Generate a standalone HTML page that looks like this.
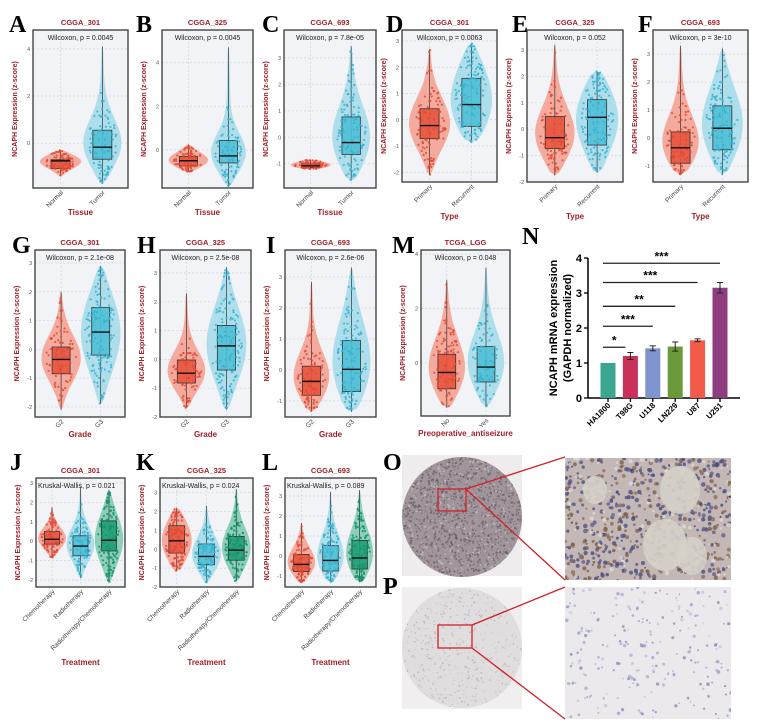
<!DOCTYPE html>
<html><head><meta charset="utf-8"><style>
html,body{margin:0;padding:0;background:#fff}
svg{display:block}
text{font-family:"Liberation Sans",sans-serif}
.let{font-family:"Liberation Serif",serif;font-weight:bold;font-size:24px;fill:#000}
</style></head><body>
<svg id="fig" width="757" height="728" viewBox="0 0 757 728" xmlns="http://www.w3.org/2000/svg">
<defs>
<clipPath id="cO"><circle cx="462" cy="517" r="60"/></clipPath>
<clipPath id="cP"><circle cx="462" cy="648" r="60"/></clipPath>
<clipPath id="rO"><rect x="565" y="458" width="166" height="122"/></clipPath>
<clipPath id="rP"><rect x="565" y="587" width="166" height="132"/></clipPath>
</defs>
<g id="panels"></g>
<g id="nchart"></g>
<g id="images">
  <rect x="402" y="455" width="120" height="121" fill="#eeecec"/>
  <circle cx="462" cy="517" r="60" fill="#a0959a"/>
  <g id="texO" clip-path="url(#cO)"></g>
  <rect x="402" y="587" width="120" height="122" fill="#f0eeee"/>
  <circle cx="462" cy="648" r="60" fill="#e0dddf"/>
  <g id="texP" clip-path="url(#cP)"></g>
  <rect x="565" y="458" width="166" height="122" fill="#c4b8b6"/>
  <g id="texOR" clip-path="url(#rO)"></g>
  <rect x="565" y="587" width="166" height="132" fill="#ebe9ec"/>
  <g id="texPR" clip-path="url(#rP)"></g>
  <g stroke="#d0202a" stroke-width="1.3" fill="none">
    <rect x="438" y="489" width="28" height="22"/>
    <line x1="466" y1="489" x2="565" y2="457"/>
    <line x1="466" y1="489" x2="565" y2="580"/>
    <rect x="438" y="625" width="34" height="23"/>
    <line x1="472" y1="625" x2="565" y2="587"/>
    <line x1="472" y1="648" x2="565" y2="719"/>
  </g>
  <text class="let" x="383" y="470">O</text>
  <text class="let" x="383" y="594">P</text>
</g>
</svg>
<script>
// ===== Violin panel data (stats: [min, q1, median, q3, max]) =====
const panelIds = ["A","B","C","D","E","F","G","H","I","M","J","K","L"];
const panelTitles = ["CGGA_301","CGGA_325","CGGA_693","CGGA_301","CGGA_325","CGGA_693","CGGA_301","CGGA_325","CGGA_693","TCGA_LGG","CGGA_301","CGGA_325","CGGA_693"];
const panelStats = ["Wilcoxon, p = 0.0045","Wilcoxon, p = 0.0045","Wilcoxon, p = 7.8e-05","Wilcoxon, p = 0.0063","Wilcoxon, p = 0.052","Wilcoxon, p = 3e-10","Wilcoxon, p = 2.1e-08","Wilcoxon, p = 2.5e-08","Wilcoxon, p = 2.6e-06","Wilcoxon, p = 0.048","Kruskal-Wallis, p = 0.021","Kruskal-Wallis, p = 0.024","Kruskal-Wallis, p = 0.089"];
const panelXTitles = ["Tissue","Tissue","Tissue","Type","Type","Type","Grade","Grade","Grade","Preoperative_antiseizure","Treatment","Treatment","Treatment"];
const catTissue = ["Normal","Tumor"];
const catType = ["Primary","Recurrent"];
const catGrade = ["G2","G3"];
const catSeiz = ["No","Yes"];
const catTreat = ["Chemotherapy","Radiotherapy","Radiotherapy/Chemotherapy"];
const panelCats = [catTissue,catTissue,catTissue,catType,catType,catType,catGrade,catGrade,catGrade,catSeiz,catTreat,catTreat,catTreat];
const panelYDomain = [[-1.9,4.8],[-1.75,5.5],[-1.92,4.06],[-2.37,3.42],[-2.0,3.76],[-1.57,3.86],[-2.35,3.45],[-2.0,3.8],[-1.52,3.87],[-1.95,4.15],[-2.36,3.26],[-2.0,3.78],[-1.55,3.9]];
const panelTicks = [[0,2,4],[0,2,4],[-1,0,1,2,3],[-2,-1,0,1,2,3],[-2,-1,0,1,2,3],[-1,0,1,2,3],[-2,-1,0,1,2,3],[-2,-1,0,1,2,3],[-1,0,1,2,3],[0,2,4],[-2,-1,0,1,2,3],[-2,-1,0,1,2,3],[-1,0,1,2,3]];
const statsA = [[-1.4,-1.07,-0.75,-0.7,-0.3],[-1.7,-0.68,-0.17,0.55,4.1]];
const statsB = [[-1.0,-0.74,-0.5,-0.3,0.25],[-1.7,-0.6,-0.28,0.43,4.7]];
const statsC = [[-1.2,-1.15,-1.08,-1.0,-0.85],[-1.65,-0.65,-0.2,0.77,3.45]];
const statsD = [[-2.1,-0.72,-0.22,0.42,2.7],[-0.85,-0.25,0.58,1.58,2.9]];
const statsE = [[-1.75,-0.73,-0.32,0.48,3.2],[-1.65,-0.6,0.45,1.12,2.2]];
const statsF = [[-1.3,-0.9,-0.35,0.22,3.3],[-1.3,-0.42,0.35,1.15,3.2]];
const statsG = [[-2.1,-0.85,-0.35,0.08,2.0],[-1.9,-0.2,0.6,1.45,2.9]];
const statsH = [[-1.7,-0.82,-0.48,-0.02,2.3],[-1.75,-0.37,0.47,1.18,3.2]];
const statsI = [[-1.35,-0.82,-0.37,0.12,2.85],[-1.35,-0.7,0.02,0.95,3.3]];
const statsM = [[-1.65,-0.95,-0.35,0.32,3.05],[-1.6,-0.7,-0.15,0.6,3.5]];
const statsJ = [[-0.85,-0.15,0.1,0.5,1.75],[-1.9,-0.75,-0.25,0.28,2.8],[-2.1,-0.5,0.05,1.05,2.65]];
const statsK = [[-1.15,-0.2,0.45,1.25,2.2],[-1.75,-0.82,-0.38,0.28,2.3],[-1.7,-0.58,-0.05,0.68,3.2]];
const statsL = [[-1.3,-0.78,-0.42,0.08,1.65],[-1.3,-0.75,-0.22,0.52,3.2],[-1.3,-0.65,-0.1,0.78,3.3]];
const panelGroupStats = [statsA,statsB,statsC,statsD,statsE,statsF,statsG,statsH,statsI,statsM,statsJ,statsK,statsL];

const boxes = [[33,30,128,188],[162,30,253,188],[284,30,376,188],[402,30,497,182],[527,30,623,182],[653,30,748,182],
  [35,250,125,417],[160,250,251,417],[285,250,376,417],[421,250,510,416],
  [36,478,125,587],[160,478,253,587],[285,478,376,587]];
const letterPos = [[9,32],[136,32],[262,32],[386,32],[512,32],[638,32],[12,253],[137,253],[266,253],[392,253],[10,470],[136,470],[262,470]];

const NS="http://www.w3.org/2000/svg";
function el(tag,attrs,parent){const e=document.createElementNS(NS,tag);for(const k in attrs)e.setAttribute(k,attrs[k]);if(parent)parent.appendChild(e);return e;}
let seed=12345;function rnd(){seed=(seed*1103515245+12345)%2147483648;return seed/2147483648;}
const fills=[["#f4a395","#e8553e","#e04a35"],["#a6dbea","#4fc0d8","#36b3cf"],["#82cbb3","#1f9e78","#16936c"]];

const root=document.getElementById('panels');
panelIds.forEach((id,pi)=>{
  const g=el('g',{},root);
  
  
  const [x0,y0,x1,y1]=boxes[pi];const W=x1-x0;
  const [dmin,dmax]=panelYDomain[pi];
  const sy=v=>y1-(v-dmin)/(dmax-dmin)*(y1-y0);
  const bg=el('rect',{x:x0,y:y0,width:W,height:y1-y0,fill:'#f2f3f6'},g);
  
  
  const cats=panelCats[pi];const n=cats.length;
  const cx=cats.map((c,i)=>n===2?x0+W*(i===0?0.29:0.73):x0+W*(0.18+0.32*i));
  panelTicks[pi].forEach(t=>{el('line',{x1:x0,x2:x1,y1:sy(t),y2:sy(t),stroke:'#d2d4da','stroke-width':0.7,'stroke-dasharray':'2,2'},g);
    const tl=el('text',{x:x0-3,y:sy(t)+2,'font-size':5.5,'text-anchor':'end',fill:'#555'},g);tl.textContent=t;
    });
  cx.forEach(c=>el('line',{x1:c,x2:c,y1:y0,y2:y1,stroke:'#d2d4da','stroke-width':0.7,'stroke-dasharray':'2,2'},g));
  const vw=n===2?W*0.22:W*0.16, bw=n===2?W*0.2:W*0.17;
  panelGroupStats[pi].forEach((s,gi)=>{
    const [lo,q1,md,q3,hi]=s;const c=cx[gi];const col=fills[gi];
    const sig=Math.max((q3-q1)*0.9,0.2);
    const pts=[];const N=40;
    for(let k=0;k<=N;k++){const v=lo+(hi-lo)*k/N;const taper=Math.pow(Math.sin(Math.PI*k/N),0.35);
      const w=vw*taper*(0.08+0.92*Math.exp(-Math.pow((v-md)/sig,2)/2));pts.push([v,w]);}
    let d='M'+c+','+sy(lo);pts.forEach(p=>d+=' L'+(c+p[1]).toFixed(1)+','+sy(p[0]).toFixed(1));
    for(let k=pts.length-1;k>=0;k--)d+=' L'+(c-pts[k][1]).toFixed(1)+','+sy(pts[k][0]).toFixed(1);d+='Z';
    const vp=el('path',{d:d,fill:col[0],opacity:0.9},g);
    
    
    el('line',{x1:c,x2:c,y1:sy(lo),y2:sy(hi),stroke:'#333','stroke-width':0.7},g);
    const bx=el('rect',{x:c-bw/2,y:sy(q3),width:bw,height:sy(q1)-sy(q3),fill:col[1],stroke:'#222','stroke-width':0.8,opacity:0.9},g);
    
    
    const np=Math.round(70+(hi-lo)*20);
    for(let k=0;k<np;k++){const v=lo+(hi-lo)*rnd();
      if(Math.exp(-Math.pow((v-md)/sig,2)/2)<rnd()*0.8)continue;
      const idx=Math.round((v-lo)/(hi-lo)*N);const w=Math.max(pts[idx][1],1.5);
      el('circle',{cx:c+(rnd()*2-1)*w*0.8,cy:sy(v),r:1.1,fill:col[2],opacity:0.85},g);}
    el('line',{x1:c-bw/2,x2:c+bw/2,y1:sy(md),y2:sy(md),stroke:'#111','stroke-width':1.4},g);
    const lx=c+3,ly=y1+5;
    const xl=el('text',{x:lx,y:ly,'font-size':6.5,'text-anchor':'end',fill:'#444',transform:'rotate(-45 '+lx+' '+ly+')'},g);
    xl.textContent=cats[gi];
    
  });
  el('rect',{x:x0,y:y0,width:W,height:y1-y0,fill:'none',stroke:'#444','stroke-width':1.4},g);
  const st=el('text',{x:n===2?x0+W/2:x0+2,y:y0+10,'font-size':7,'text-anchor':n===2?'middle':'start',fill:'#222'},g);
  st.textContent=panelStats[pi];
  const tt=el('text',{x:x0+W/2,y:y0-5,'font-size':7.5,'font-weight':'bold','text-anchor':'middle',fill:'#a0202a'},g);
  tt.textContent=panelTitles[pi];
  const ay=(y0+y1)/2,ax=x0-16;
  const yt=el('text',{x:ax,y:ay,'font-size':7,'font-weight':'bold','text-anchor':'middle',fill:'#a0202a',transform:'rotate(-90 '+ax+' '+ay+')'},g);
  yt.textContent='NCAPH Expression (z-score)';
  const xty = n===3? y1+78 : y1+ (pi>=3&&pi<6? 37 : pi<3?27:20);
  const xt=el('text',{x:x0+W/2,y:xty,'font-size':8,'font-weight':'bold','text-anchor':'middle',fill:'#a0202a'},g);
  xt.textContent=panelXTitles[pi];
  const lt=el('text',{x:letterPos[pi][0],y:letterPos[pi][1],class:'let'},g);
  lt.textContent=id;
});

// ===== Panel N bar chart data =====
const nCats=["HA1800","T98G","U118","LN229","U87","U251"];
const nVals=[1.0,1.2,1.42,1.47,1.65,3.15];
const nErr=[0,0.1,0.07,0.13,0.04,0.15];
const nColors=["#3aa690","#c8325a","#7f93cc","#6b9a3a","#f25a4a","#8e3d80"];
const nTicks=[0,1,2,3,4];
const sigLevels=[1.45,2.05,2.62,3.3,3.85];
const sigTargets=[1,2,3,4,5];
const sigLabels=["*","***","**","***","***"];
(function(){
  const g=document.getElementById('nchart');
  const ax0=588,ax1=740,yb=398,yt=258;const sy=v=>yb-(v-0)/(4-0)*(yb-yt);
  const sx=i=>ax0+20+i*22.4;const bw=15;
  el('line',{x1:ax0,x2:ax0,y1:yt,y2:yb,stroke:'#000','stroke-width':1.5},g);
  el('line',{x1:ax0,x2:ax1,y1:yb,y2:yb,stroke:'#000','stroke-width':1.5},g);
  nTicks.forEach(t=>{el('line',{x1:ax0-4,x2:ax0,y1:sy(t),y2:sy(t),stroke:'#000','stroke-width':1.3},g);
    const tl=el('text',{x:ax0-6,y:sy(t)+4,'font-size':11,'font-weight':'bold','text-anchor':'end'},g);tl.textContent=t;
    });
  nCats.forEach((c,i)=>{const x=sx(i);
    const r=el('rect',{x:x-bw/2,y:sy(nVals[i]),width:bw,height:yb-sy(nVals[i]),fill:nColors[i]},g);
    
    if(nErr[i]>0){el('line',{x1:x,x2:x,y1:sy(nVals[i]-nErr[i]),y2:sy(nVals[i]+nErr[i]),stroke:'#222','stroke-width':1},g);
      [nVals[i]-nErr[i],nVals[i]+nErr[i]].forEach(v=>el('line',{x1:x-3,x2:x+3,y1:sy(v),y2:sy(v),stroke:'#222','stroke-width':1},g));}
    el('line',{x1:x,x2:x,y1:yb,y2:yb+4,stroke:'#000','stroke-width':1.3},g);
    const lx=x+3,ly=yb+8;
    const tl=el('text',{x:lx,y:ly,'font-size':8,'font-weight':'bold','text-anchor':'end',transform:'rotate(-45 '+lx+' '+ly+')'},g);tl.textContent=c;
    });
  sigLevels.forEach((v,k)=>{const xa=sx(0)-5,xb=sx(sigTargets[k])+(k===0?-5:0);
    const ln=el('line',{x1:xa,x2:xb,y1:sy(v),y2:sy(v),stroke:'#222','stroke-width':1.3},g);
    
    const t=el('text',{x:(xa+xb)/2,y:sy(v)-3,'font-size':12,'font-weight':'bold','text-anchor':'middle'},g);t.textContent=sigLabels[k];
    });
  const t1=el('text',{x:557,y:328,'font-size':11,'font-weight':'bold','text-anchor':'middle',transform:'rotate(-90 557 328)'},g);t1.textContent='NCAPH mRNA expression';
  
  const t2=el('text',{x:571,y:328,'font-size':11,'font-weight':'bold','text-anchor':'middle',transform:'rotate(-90 571 328)'},g);t2.textContent='(GAPDH normalized)';
  
  const L=el('text',{x:522,y:244,class:'let'},g);L.textContent='N';
  
})();

// ===== decorative tissue textures =====
(function(){
  function speckle(id,x,y,w,h,n,cols,rmin,rmax){const g=document.getElementById(id);
    for(let i=0;i<n;i++){el('circle',{cx:(x+rnd()*w).toFixed(1),cy:(y+rnd()*h).toFixed(1),r:(rmin+rnd()*(rmax-rmin)).toFixed(2),fill:cols[Math.floor(rnd()*cols.length)],opacity:0.75},g);}}
  speckle('texO',402,457,120,120,1800,['#6e5f6a','#857680','#c9c0c3','#7a6a62','#5e5570'],0.5,1.2);
  speckle('texP',402,588,120,120,700,['#b8b4c0','#c9c5cc','#a9a6b6'],0.4,0.9);
  speckle('texOR',565,458,166,122,700,['#4a4c80','#5a5a8c','#7a5a40','#e2dcd6','#3f4575','#8a6a50'],1.0,2.3);
  const gor=document.getElementById('texOR');
  [[680,490,20,24],[665,545,22,26],[692,556,15,19],[595,490,12,14]].forEach(v=>el('ellipse',{cx:v[0],cy:v[1],rx:v[2],ry:v[3],fill:'#d6d1c8',opacity:0.9},gor));
  speckle('texPR',565,587,166,132,220,['#9a9ac4','#a8a6cc','#8484b0','#c2c0dc'],0.8,1.8);
})();
</script>
</body></html>
